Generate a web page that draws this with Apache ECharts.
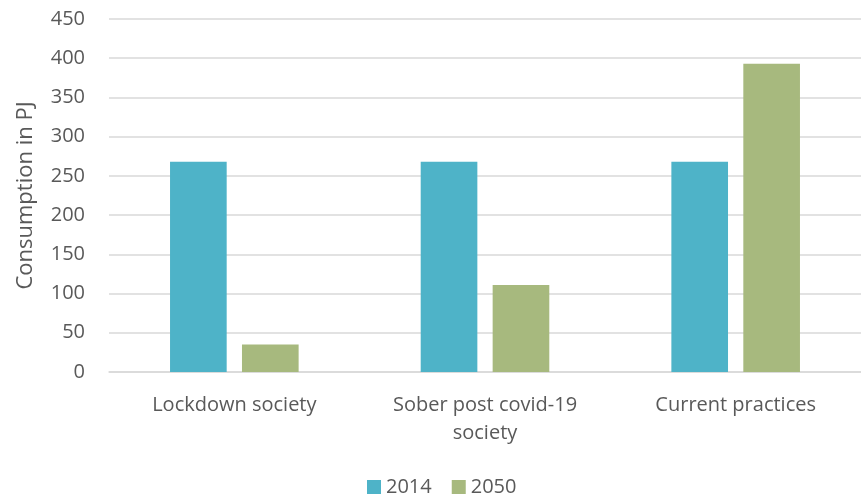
<!DOCTYPE html>
<html>
<head>
<meta charset="utf-8">
<script src="https://cdn.jsdelivr.net/npm/echarts@6/dist/echarts.min.js"></script>
<style>html,body{margin:0;padding:0;background:#fff}#c{width:861px;height:498px}</style>
</head>
<body>
<div id="c"></div>
<script>
var categories = ['Lockdown society', 'Sober post covid-19\nsociety', 'Current practices'];
var series2014 = [268, 268, 268];
var series2050 = [35, 111, 393];
var yTicks = {min: 0, max: 450, interval: 50};

var font = '"Open Sans", "Noto Sans", sans-serif';
var txt = '#595959';
var chart = echarts.init(document.getElementById('c'), null, {renderer: 'canvas'});
chart.setOption({
  animation: false,
  textStyle: {fontFamily: font},
  grid: {left: 109, top: 19, width: 760, bottom: 126},
  legend: {
    data: ['2014', '2050'], bottom: -4, left: 362,
    itemWidth: 14, itemHeight: 14, itemGap: 20,
    icon: 'rect',
    textStyle: {fontFamily: font, fontSize: 20, color: txt}
  },
  xAxis: {
    type: 'category', data: categories,
    axisLine: {lineStyle: {color: '#D9D9D9', width: 1.5}},
    axisTick: {show: false},
    axisLabel: {fontFamily: font, fontSize: 20, color: txt, margin: 19, lineHeight: 28, interval: 0}
  },
  yAxis: {
    type: 'value', min: yTicks.min, max: yTicks.max, interval: yTicks.interval,
    name: 'Consumption in PJ', nameLocation: 'middle', nameGap: 72,
    nameTextStyle: {fontFamily: font, fontSize: 22, color: txt},
    axisLine: {show: false}, axisTick: {show: false},
    axisLabel: {fontFamily: font, fontSize: 20, color: txt, margin: 24},
    splitLine: {lineStyle: {color: '#D9D9D9', width: 1.5}}
  },
  series: [
    {name: '2014', type: 'bar', data: series2014, barWidth: '22.6%', barGap: '27%',
     itemStyle: {color: '#4EB3C8'}},
    {name: '2050', type: 'bar', data: series2050, barWidth: '22.6%', barGap: '27%',
     itemStyle: {color: '#A7B97E'}}
  ]
});
</script>
</body>
</html>
